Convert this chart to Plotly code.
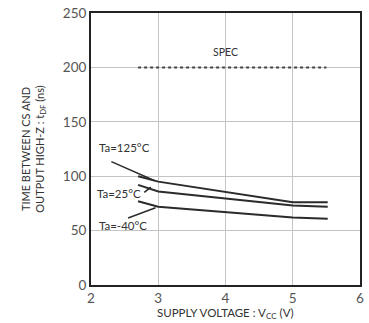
import plotly.graph_objects as go

# curve data
vcc = [2.7, 3.0, 5.0, 5.52]
t_125 = [100, 95, 76, 76]
t_25 = [92, 86, 73, 72]
t_m40 = [77, 72, 62, 61]

spec_x = [2.7, 2.85, 3.0, 3.15, 3.3, 3.45, 3.6, 3.75, 3.9, 4.05, 4.2, 4.35, 4.5,
          4.65, 4.8, 4.95, 5.1, 5.25, 5.4, 5.5]
spec_y = [200] * len(spec_x)

x_ticks = [2, 3, 4, 5, 6]
y_ticks = [0, 50, 100, 150, 200, 250]

font = "Lato, Open Sans, sans-serif"
ink = "#333333"

fig = go.Figure()
for ys in [t_125, t_25, t_m40]:
    fig.add_trace(go.Scatter(x=vcc, y=ys, mode="lines",
                             line=dict(color="#2b2b2b", width=2), hoverinfo="skip"))
fig.add_trace(go.Scatter(x=spec_x, y=spec_y, mode="lines",
                         line=dict(color="#444444", width=2, dash="dot"), hoverinfo="skip"))

# labels with leader lines
labels = [
    ("Ta=125°C", 2.5, 126, 2.28, 114, 2.94, 96),
    ("Ta=25°C", 2.42, 84, 2.77, 84, 2.89, 90),
    ("Ta=-40°C", 2.47, 55, 2.53, 61, 2.96, 71),
]
for txt, tx, ty, x0, y0, x1, y1 in labels:
    fig.add_annotation(x=tx, y=ty, text=txt, showarrow=False,
                       font=dict(family=font, size=11.5, color=ink))
    fig.add_annotation(x=x1, y=y1, ax=x0, ay=y0, axref="x", ayref="y",
                       xref="x", yref="y", text="", showarrow=True,
                       arrowhead=0, arrowwidth=1.5, arrowcolor="#2b2b2b")
fig.add_annotation(x=4, y=214, text="SPEC", showarrow=False,
                   font=dict(family=font, size=10.5, color=ink))

# x axis title, a little closer to the tick labels than plotly's default
fig.add_annotation(x=0.5, y=-0.106, xref="paper", yref="paper", yanchor="middle",
                   text="SUPPLY VOLTAGE : V<sub>CC</sub> (V)", showarrow=False,
                   font=dict(family=font, size=11.5, color=ink))

fig.update_layout(
    width=369, height=323,
    margin=dict(l=91, r=5, t=11, b=38),
    plot_bgcolor="white", paper_bgcolor="white",
    showlegend=False,
    font=dict(family=font, color=ink),
)
fig.update_xaxes(range=[2, 6], tickvals=x_ticks, showgrid=True, gridcolor="#c4c4c4",
                 gridwidth=1, showline=True, linecolor="#222222", linewidth=2, mirror=True,
                 ticks="", tickfont=dict(size=13.5, color="#555555"), ticklabeloverflow="allow")
fig.update_yaxes(range=[0, 250], tickvals=y_ticks, showgrid=True, gridcolor="#c4c4c4",
                 gridwidth=1, showline=True, linecolor="#222222", linewidth=2, mirror=True,
                 ticks="", tickfont=dict(size=13.5, color="#555555"), ticklabeloverflow="allow",
                 title=dict(text="TIME BETWEEN CS AND<br>OUTPUT HIGH-Z : t<sub>DF</sub> (ns)",
                            standoff=16, font=dict(size=11, color=ink)))

# drop the default body margin so the figure fills the window
fig.write_html("out.html", config={"displayModeBar": False},
               post_script="document.body.style.margin='0';")
